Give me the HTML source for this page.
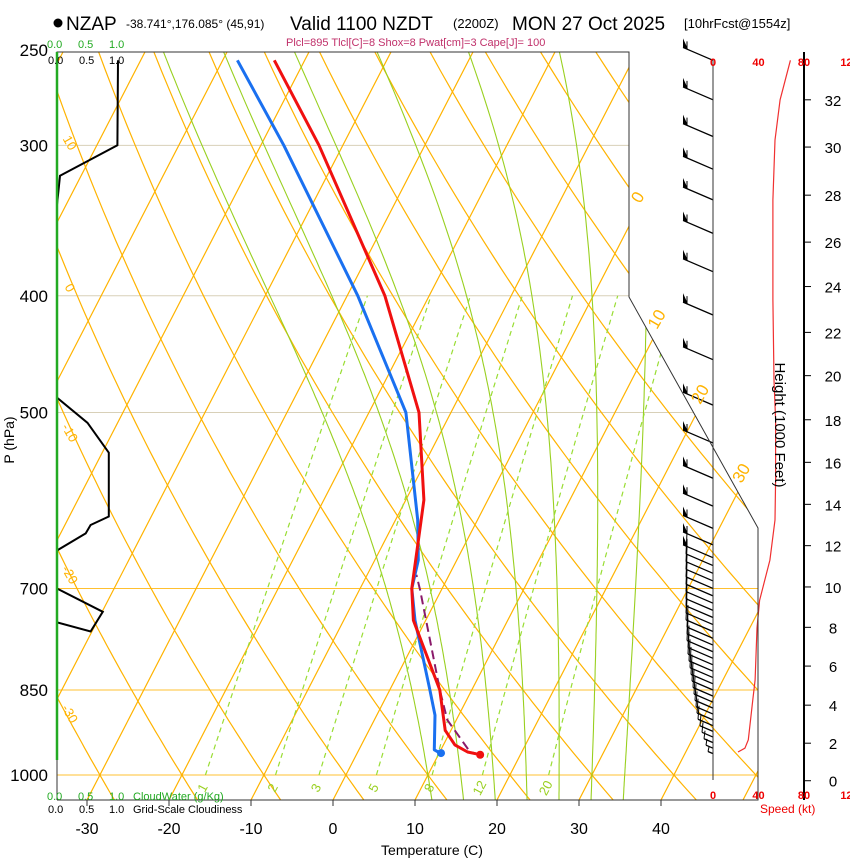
<!DOCTYPE html>
<html><head><meta charset="utf-8"><style>
html,body{margin:0;padding:0;background:#fff;}
svg{display:block;font-family:"Liberation Sans",Arial,sans-serif;}
</style></head><body>
<svg id="chart" width="850" height="860" viewBox="0 0 850 860" xmlns="http://www.w3.org/2000/svg">
<defs><clipPath id="plotclip"><polygon points="57,52 629,52 629,297 758,528 758,800 57,800"/></clipPath></defs>
<rect width="850" height="860" fill="#fff"/>
<g id="grid" clip-path="url(#plotclip)"></g>
<g id="profiles"></g>
<g id="frame">
  <polyline points="57,800 57,52 629,52 629,297 758,528 758,800 57,800" fill="none" stroke="#333" stroke-width="1"/>
  <line x1="713" y1="60" x2="713" y2="780" stroke="#333" stroke-width="1"/>
  <line x1="804" y1="52" x2="804" y2="800" stroke="#000" stroke-width="2"/>
  <line x1="57" y1="52" x2="57" y2="760" stroke="#22aa22" stroke-width="2.5"/>
</g>
<g id="labels"></g>
<g id="text" font-size="12">
  <circle cx="58" cy="23" r="4.5" fill="#000"/>
  <text x="66" y="30" font-size="19">NZAP</text>
  <text x="126" y="28" font-size="12">-38.741°,176.085° (45,91)</text>
  <text x="290" y="30" font-size="19">Valid 1100 NZDT</text>
  <text x="453" y="28" font-size="13">(2200Z)</text>
  <text x="512" y="30" font-size="19">MON 27 Oct 2025</text>
  <text x="684" y="28" font-size="13">[10hrFcst@1554z]</text>
  <text x="286" y="46" font-size="11" fill="#c0306a">Plcl=895 Tlcl[C]=8 Shox=8 Pwat[cm]=3 Cape[J]= 100</text>
  <text x="47" y="48" font-size="11" fill="#22aa22">0.0 <tspan x="78">0.5</tspan><tspan x="109">1.0</tspan></text>
  <text x="48" y="64" font-size="11" fill="#000">0.0 <tspan x="79">0.5</tspan><tspan x="109">1.0</tspan></text>
  <text x="47" y="800" font-size="11" fill="#22aa22">0.0 <tspan x="78">0.5</tspan><tspan x="109">1.0</tspan><tspan x="133">CloudWater (g/Kg)</tspan></text>
  <text x="48" y="813" font-size="11" fill="#000">0.0 <tspan x="79">0.5</tspan><tspan x="109">1.0</tspan><tspan x="133">Grid-Scale Cloudiness</tspan></text>
  <text x="432" y="855" font-size="14" text-anchor="middle">Temperature (C)</text>
  <text transform="translate(14,440) rotate(-90)" font-size="14" text-anchor="middle">P (hPa)</text>
  <text transform="translate(775,425) rotate(90)" font-size="15" text-anchor="middle">Height (1000 Feet)</text>
  <text x="760" y="813" font-size="12" fill="#e00">Speed (kt)</text>
</g>
<script>
var W=document.getElementById('grid'),L=document.getElementById('labels'),P=document.getElementById('profiles');
var NS='http://www.w3.org/2000/svg';
// ---- data ----
var pressureTicks=[250,300,400,500,700,850,1000];
var tempTicks=[-30,-20,-10,0,10,20,30,40];
var isotherms=[-110,-100,-90,-80,-70,-60,-50,-40,-30,-20,-10,0,10,20,30,40,50];
var dryAdiabats=[-40,-30,-20,-10,0,10,20,30,40,50,60,70,80,90,100,110,120,130,140,150];
var moistAdiabats=[10,14,18,22,26,30,34];
var mixRatios=[1,2,3,5,8,12,20];
var tempP=[962,957,944,918,850,744,700,591,500,400,300,255];
var tempT=[15.1,13.4,11.4,9.3,6.1,-1.5,-3.7,-7.8,-13.9,-25.4,-42.9,-53.7];
var dewP=[959,953,892,850,744,700,663,614,500,400,300,255];
var dewT=[10.1,9.2,7.1,4.9,-1.3,-3.7,-4.7,-7.3,-15.5,-28.7,-47.2,-58.2];
var parcelP=[962,957,900,850,787,702,682];
var parcelT=[15.1,13.7,8.9,6.1,2.6,-2.6,-4.0];
var cloudP=[255,300,318,336,486,510,540,610,620,630,651,684,700,732,760,747,741];
var cloudV=[1.0,0.99,0.05,0.0,0.0,0.5,0.85,0.85,0.55,0.47,0.0,0,0,0.75,0.55,0,0];
var heightTicks=[0,2,4,6,8,10,12,14,16,18,20,22,24,26,28,30,32];
var heightP=[1011,941,875,812,754,698,645,596,550,507,466,429,393,361,330,301,275];
var speedTicks=[0,40,80,120];
var speedP=[957,950,935,866,834,755,716,663,614,569,507,470,403,333,297,275,255];
var speedV=[22,28,31,35,37,38.7,41,50,54.5,55,55,53.6,52.7,52.7,54.5,59,68];
var barbP=[255,275,295,314,333,355,382,415,452,493,530,567,598,624,644,660,670,680,690,700,710,720,730,740,750,760,770,780,790,800,810,820,830,840,850,860,870,880,890,900,910,920,930,940,950,960];
var barbLen=[30,30,30,30,30,30,30,30,30,30,30,30,30,30,30,30,27,27,27,27,27,27,27,27,27,27,26,26,26,25,25,24,23,22,21,20,19,18,17,16,15,13,11,9,7,5];
// ---- axes ----
function yP(p){return 775+523*Math.log(p/1000);}
function xT(t,y){return 333+8.2*t+0.516*(800-y);}
function el(tag,attrs,parent){var e=document.createElementNS(NS,tag);for(var k in attrs)e.setAttribute(k,attrs[k]);(parent||W).appendChild(e);return e;}
function pathFrom(pts){return pts.map(function(q,i){return (i?'L':'M')+q[0].toFixed(1)+','+q[1].toFixed(1);}).join('');}
var pmax=1050,pmin=240;
function esat(tc){return 6.112*Math.exp(17.67*tc/(tc+243.5));}
pressureTicks.forEach(function(p){
  var y=yP(p);var l=el('line',{x1:57,y1:y,x2:760,y2:y,stroke:(p>=700?'#ffc030':'#d8d0b8'),'stroke-width':1});
  
  
  var t=el('text',{x:48,y:y+6,'font-size':17,'text-anchor':'end'},L);t.textContent=p;
  
  
});
isotherms.forEach(function(T){
  var l=el('line',{x1:xT(T,yP(pmax)),y1:yP(pmax),x2:xT(T,yP(pmin)),y2:yP(pmin),stroke:'#ffb300','stroke-width':1.2});
  
  
});
dryAdiabats.forEach(function(th){
  var pts=[];for(var p=pmax;p>=pmin;p-=10){var T=(th+273.15)*Math.pow(p/1000,0.2857)-273.15;var y=yP(p);pts.push([xT(T,y),y]);}
  var l=el('path',{d:pathFrom(pts),fill:'none',stroke:'#ffb300','stroke-width':1.2});
  
  
});
function moistLapse(Tk,p){var tc=Tk-273.15,es=esat(tc),rs=0.622*es/(p-es),Lv=2.5e6,Rd=287,cp=1005;
  return (Rd*Tk+Lv*rs)/(cp+Lv*Lv*rs*0.622/(Rd*Tk*Tk))/p;}
moistAdiabats.forEach(function(tw){
  var pts=[];var Tk=tw+273.15;var p;
  var down=[];var T2=Tk;for(p=1000;p<=pmax;p+=5){down.push([p,T2]);T2+=moistLapse(T2,p)*5;}
  for(p=1000;p>=pmin;p-=5){pts.push([p,Tk]);Tk-=moistLapse(Tk,p)*5;}
  var all=down.reverse().concat(pts).map(function(q){var y=yP(q[0]);return [xT(q[1]-273.15,y),y];});
  var l=el('path',{d:pathFrom(all),fill:'none',stroke:'#99d020','stroke-width':1.1});
  
  
});
mixRatios.forEach(function(w){
  var pts=[];for(var p=1000;p>=400;p-=10){var e=w/1000*p/(0.622+w/1000);var a=Math.log(e/6.112);var T=243.5*a/(17.67-a);var y=yP(p);pts.push([xT(T,y),y]);}
  var l=el('path',{d:pathFrom(pts),fill:'none',stroke:'#99dd33','stroke-width':1.2,'stroke-dasharray':'5,4'});
  
  
  var q=pts[0];var t=el('text',{transform:'translate('+(q[0]+1)+','+(q[1]+15)+') rotate(-62)','font-size':13,fill:'#99d020','text-anchor':'middle'},L);t.textContent=w;
  
  
});
[[0,200],[10,322],[20,397],[30,476]].forEach(function(a){
  var x=xT(a[0],a[1]);var t=el('text',{transform:'translate('+(x)+','+a[1]+') rotate(-60)','font-size':17,fill:'#ffb300','text-anchor':'middle'},L);t.textContent=a[0];
  
  
});
[[10,145],[0,290],[-10,435],[-20,577],[-30,716]].forEach(function(a){
  var t=el('text',{transform:'translate(66,'+a[1]+') rotate(60)','font-size':13,fill:'#ffb300','text-anchor':'middle'},L);t.textContent=a[0];
  
  
});
tempTicks.forEach(function(T){var x=333+8.2*T;
  var k=el('line',{x1:x,y1:800,x2:x,y2:806,stroke:'#333'},L);
  
  
  var t=el('text',{x:x,y:834,'font-size':16,'text-anchor':'middle'},L);t.textContent=T;
  
  
});
heightTicks.forEach(function(h,i){var y=yP(heightP[i]);
  var k=el('line',{x1:804,y1:y,x2:811,y2:y,stroke:'#000','stroke-width':1},L);
  
  
  var t=el('text',{x:833,y:y+6,'font-size':15,'text-anchor':'middle'},L);t.textContent=h;
  
  
});
function xS(s){return 713+s*(45.5/40);}
speedTicks.forEach(function(s){[66,799].forEach(function(y){
  var t=el('text',{x:xS(s),y:y,'font-size':11,'font-weight':'bold',fill:'#e00','text-anchor':'middle'},L);t.textContent=s;
  
  
});});
var sp=el('path',{d:pathFrom(speedP.map(function(p,i){return [xS(speedV[i]),yP(p)];})),fill:'none',stroke:'#f03030','stroke-width':1.2},P);


var cl=el('path',{d:pathFrom(cloudP.map(function(p,i){return [57+61*cloudV[i],yP(p)];})),fill:'none',stroke:'#000','stroke-width':2},P);


barbP.forEach(function(p,i){var y=yP(p);var len=barbLen[i];var x2=713-len, y2=y-len*0.43;
  var g=el('g',{},P);
  
  
  el('line',{x1:713,y1:y,x2:x2,y2:y2,stroke:'#000','stroke-width':1.3},g);
  if(p<665){el('polygon',{points:x2+','+y2+' '+x2+','+(y2-9)+' '+(x2+5)+','+(y2+2),fill:'#000'},g);
    el('line',{x1:x2+4,y1:y2+1,x2:x2+4,y2:y2-6,stroke:'#000','stroke-width':1},g);}
  else{var fl=Math.min(22,len*0.9);el('line',{x1:x2,y1:y2,x2:x2+1,y2:y2-fl,stroke:'#000','stroke-width':1},g);}
});
function prof(ps,ts,color,name,dash,w){var d=pathFrom(ps.map(function(p,i){var y=yP(p);return [xT(ts[i],y),y];}));
  var a={d:d,fill:'none',stroke:color,'stroke-width':w,'stroke-linejoin':'round'};if(dash)a['stroke-dasharray']=dash;
  var e=el('path',a,P);
  
  
  return e;}
prof(parcelP,parcelT,'#8a1a6a','parcel-path','9,5',2);
prof(dewP,dewT,'#1a70f0','dewpoint-profile',null,3);
prof(tempP,tempT,'#f01010','temperature-profile',null,3);
var yd=yP(dewP[0]);var d1=el('circle',{cx:xT(dewT[0],yd)+1,cy:yd,r:4,fill:'#1a70f0'},P);


var yt=yP(tempP[0]);var d2=el('circle',{cx:xT(tempT[0],yt),cy:yt,r:4,fill:'#f01010'},P);


</script>
</svg>
</body></html>
